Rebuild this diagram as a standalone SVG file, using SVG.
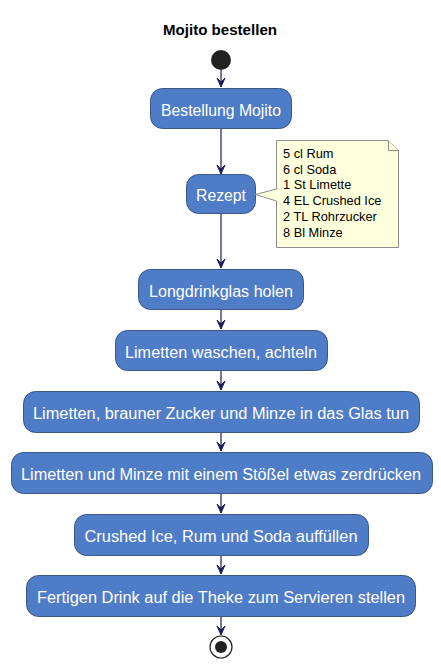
<svg xmlns="http://www.w3.org/2000/svg" width="441" height="668" viewBox="0 0 441 668">
<style>
.box{fill:#4F7CC6;stroke:#3A5785;stroke-width:1}
.lbl{font-family:"Liberation Sans",Arial,sans-serif;font-size:16px;fill:#FFFFFF;text-anchor:middle}
.ln{stroke:#1E1E5C;stroke-width:1.2;fill:none}
.ah{fill:#1E1E5C;stroke:#1E1E5C;stroke-width:1}
.note{fill:#FEFFDD;stroke:#8D8D8D;stroke-width:1}
.nt{font-family:"Liberation Sans",Arial,sans-serif;font-size:12.8px;fill:#000000}
</style>
<rect width="441" height="668" fill="#FFFFFF"/>
<text x="220" y="35" font-family="'Liberation Sans',Arial,sans-serif" font-size="15" font-weight="bold" text-anchor="middle" fill="#000" textLength="114" lengthAdjust="spacingAndGlyphs">Mojito bestellen</text>

<g id="connectors">
<line class="ln" x1="221" y1="70" x2="221" y2="87"/>
<polygon class="ah" points="217,78 221,87 225,78 221,82"/>
<line class="ln" x1="221" y1="129" x2="221" y2="174"/>
<polygon class="ah" points="217,165 221,174 225,165 221,169"/>
<line class="ln" x1="221" y1="214" x2="221" y2="268"/>
<polygon class="ah" points="217,259 221,268 225,259 221,263"/>
<line class="ln" x1="221" y1="309" x2="221" y2="329"/>
<polygon class="ah" points="217,320 221,329 225,320 221,324"/>
<line class="ln" x1="221" y1="370" x2="221" y2="390"/>
<polygon class="ah" points="217,381 221,390 225,381 221,385"/>
<line class="ln" x1="221" y1="432" x2="221" y2="451"/>
<polygon class="ah" points="217,442 221,451 225,442 221,446"/>
<line class="ln" x1="221" y1="493" x2="221" y2="513"/>
<polygon class="ah" points="217,504 221,513 225,504 221,508"/>
<line class="ln" x1="221" y1="555" x2="221" y2="574"/>
<polygon class="ah" points="217,565 221,574 225,565 221,569"/>
<line class="ln" x1="221" y1="616" x2="221" y2="635"/>
<polygon class="ah" points="217,626 221,635 225,626 221,630"/>
</g>

<g id="start"><circle cx="221" cy="60" r="10" fill="#222222"/></g>

<g id="n1"><rect class="box" x="150.5" y="88.5" width="141" height="40" rx="12"/><text class="lbl" x="221" y="116" textLength="120" lengthAdjust="spacingAndGlyphs">Bestellung Mojito</text></g>

<g id="n2"><rect class="box" x="186.5" y="174.5" width="69" height="39" rx="12"/><text class="lbl" x="221" y="201" textLength="50" lengthAdjust="spacingAndGlyphs">Rezept</text></g>

<g id="note">
<path class="note" d="M276.5,140.5 L388.5,140.5 L398.5,150.5 L398.5,247.5 L276.5,247.5 L276.5,201 L255.5,194.5 L276.5,189 Z"/>
<path class="note" d="M388.5,140.5 L388.5,150.5 L398.5,150.5" fill="none"/>
<text class="nt" x="283" y="158">5 cl Rum</text>
<text class="nt" x="283" y="174">6 cl Soda</text>
<text class="nt" x="283" y="189">1 St Limette</text>
<text class="nt" x="283" y="205">4 EL Crushed Ice</text>
<text class="nt" x="283" y="221">2 TL Rohrzucker</text>
<text class="nt" x="283" y="237">8 Bl Minze</text>
</g>

<g id="n3"><rect class="box" x="138.5" y="269.5" width="165" height="40" rx="12"/><text class="lbl" x="221" y="297" textLength="144" lengthAdjust="spacingAndGlyphs">Longdrinkglas holen</text></g>

<g id="n4"><rect class="box" x="115.5" y="330.5" width="212" height="40" rx="12"/><text class="lbl" x="221" y="358" textLength="192" lengthAdjust="spacingAndGlyphs">Limetten waschen, achteln</text></g>

<g id="n5"><rect class="box" x="23.5" y="391.5" width="396" height="41" rx="12"/><text class="lbl" x="221" y="419" textLength="376" lengthAdjust="spacingAndGlyphs">Limetten, brauner Zucker und Minze in das Glas tun</text></g>

<g id="n6"><rect class="box" x="11.5" y="452.5" width="421" height="41" rx="12"/><text class="lbl" x="221" y="480" textLength="400" lengthAdjust="spacingAndGlyphs">Limetten und Minze mit einem Stößel etwas zerdrücken</text></g>

<g id="n7"><rect class="box" x="74.5" y="514.5" width="294" height="41" rx="12"/><text class="lbl" x="221" y="542" textLength="273" lengthAdjust="spacingAndGlyphs">Crushed Ice, Rum und Soda auffüllen</text></g>

<g id="n8"><rect class="box" x="26.5" y="575.5" width="389" height="41" rx="12"/><text class="lbl" x="221" y="603" textLength="368" lengthAdjust="spacingAndGlyphs">Fertigen Drink auf die Theke zum Servieren stellen</text></g>

<g id="end"><circle cx="221" cy="647" r="11" fill="none" stroke="#222222" stroke-width="1.2"/><circle cx="221" cy="647" r="6" fill="#222222"/></g>
</svg>
